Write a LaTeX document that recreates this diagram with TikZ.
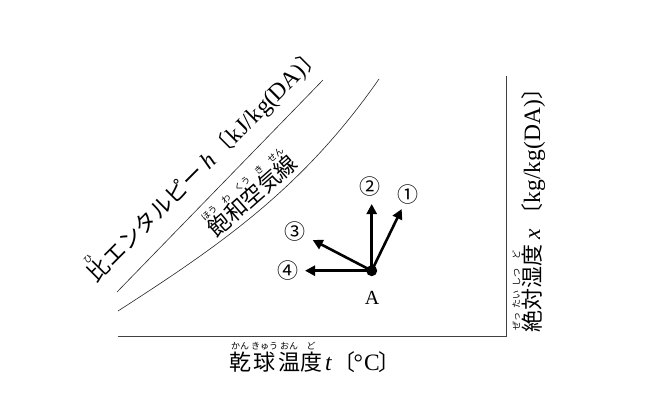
\documentclass[tikz,border=0pt]{standalone}
\usepackage{fontspec}
\setmainfont{Liberation Serif}
\newfontfamily\cjk{Noto Sans CJK JP}
\usetikzlibrary{arrows.meta}
\newcommand\rubyf{\cjk\fontsize{9}{9}\selectfont}
\newcommand\lat{\rmfamily\fontsize{23.5}{26}\selectfont}
\newcommand\rb[2]{\leavevmode\setbox0=\hbox{#1}\setbox2=\hbox{\rubyf #2}%
  \ifdim\wd2>\wd0 \dimen0=\wd2 \else\dimen0=\wd0 \fi
  \vbox{\offinterlineskip\hbox to\dimen0{\hss\box2\hss}\kern1.5pt\hbox to\dimen0{\hss\box0\hss}}}
\begin{document}
\begin{tikzpicture}[x=1pt,y=-1pt,
  axisline/.style={draw=black!75,line width=0.9pt},
  chartline/.style={draw=black!85,line width=0.6pt},
  arr/.style={line width=2.6pt,-{Triangle[length=10pt,width=10pt]}},
  lbl/.style={font=\cjk\fontsize{22}{26}\selectfont,inner sep=0pt},
  num/.style={font=\cjk\fontsize{21}{24}\selectfont,inner sep=0pt}]
\useasboundingbox (0,0) rectangle (652,404);
% axes
\coordinate (o) at (118,336.5);
\coordinate (xe) at (506,336.5);
\coordinate (ye) at (506,76);
\draw[axisline] (o) -- (xe) -- (ye);
% enthalpy line
\coordinate (h0) at (117,292);
\coordinate (h1) at (323,80);
\draw[chartline] (h0) -- (h1);
% saturation curve
\coordinate (s0) at (118,311);
\coordinate (s1) at (379,79);
\draw[chartline] (s0) .. controls (222,244) and (303,188) .. (s1);
% labels
\node[lbl,rotate=45,anchor=base] (hl) at (210,170)
  {\rb{比}{ひ}エンタルピー\hspace{5pt}{\lat\itshape h}\hspace{3pt}〔{\lat k\kern1ptJ/k\kern0.5ptg(DA)}〕};
\node[lbl,rotate=41.4,anchor=base] (sl) at (258,202)
  {\rb{飽}{ほう}\rb{和}{わ}\rb{空}{くう}\rb{気}{き}\rb{線}{せん}};
\node[lbl,anchor=base] (xl) at (315,370)
  {\rb{乾}{かん}\rb{球}{きゅう}\rb{温}{おん}\rb{度}{ど}\hspace{3pt}{\lat\itshape t}\hspace{2pt}〔\kern-2pt{\lat °\kern1pt C}\kern-1pt〕};
\node[lbl,rotate=90,anchor=base] (yl) at (540,205)
  {\rb{絶}{ぜっ}\rb{対}{たい}\rb{湿}{しつ}\rb{度}{ど}\hspace{5pt}{\lat\itshape x}\hspace{3pt}〔{\lat k\kern0.5ptg/k\kern0.5ptg(DA)}〕};
% point A and arrows
\node[circle,fill=black,minimum size=11pt,inner sep=0pt] (A) at (371.7,270.7) {};
\coordinate (t1) at (401.7,209);
\coordinate (t2) at (371.7,204);
\coordinate (t3) at (312.7,240);
\coordinate (t4) at (305,270.7);
\draw[arr] (A.center) -- (t1);
\draw[arr] (A.center) -- (t2);
\draw[arr] (A.center) -- (t3);
\draw[arr] (A.center) -- (t4);
\node[num] (n1) at (408,195) {①};
\node[num] (n2) at (370,187) {②};
\node[num] (n3) at (295,232) {③};
\node[num] (n4) at (288,270.7) {④};
\node[font=\fontsize{20}{24}\selectfont,inner sep=0pt] (Al) at (372,298) {A};
\end{tikzpicture}
\end{document}
